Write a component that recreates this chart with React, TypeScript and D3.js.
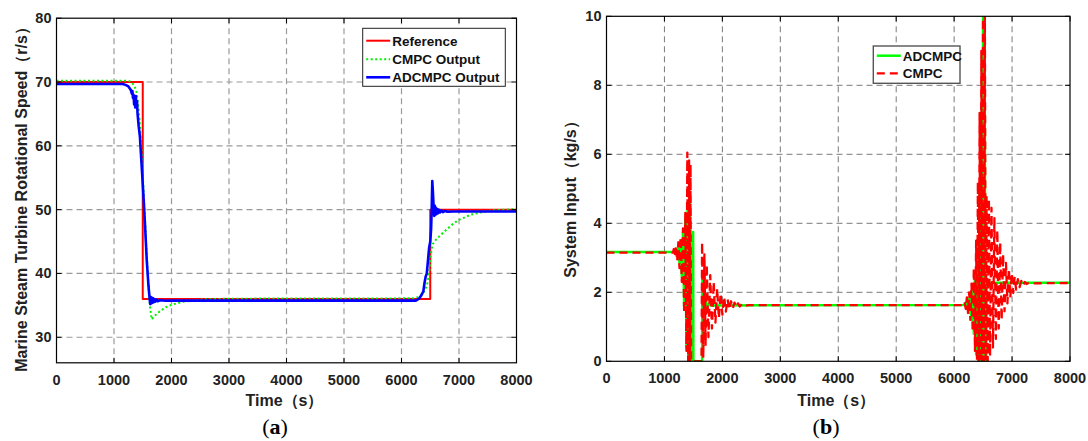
import React from "react";
import * as d3 from "d3";

// ---------- Data: panel (a) ----------
const timeTicks = [0, 1000, 2000, 3000, 4000, 5000, 6000, 7000, 8000];
const speedTicks = [30, 40, 50, 60, 70, 80];
const inputTicks = [0, 2, 4, 6, 8, 10];

const referenceSpeed: [number, number][] = [
  [0, 70], [1500, 70], [1500, 36], [6500, 36], [6500, 50], [8000, 50],
];

const cmpcOutput: [number, number][] = [
  [0, 70.2], [1250, 70.2], [1300, 70.0], [1350, 69.5], [1390, 68.5], [1420, 66.5],
  [1450, 63.5], [1480, 59], [1520, 52], [1560, 44.5], [1600, 38], [1630, 34.5],
  [1655, 32.8], [1700, 33.3], [1800, 34.1], [1900, 34.7], [2000, 35.1], [2200, 35.55],
  [2400, 35.8], [2600, 35.95], [3000, 36.05], [6200, 36.1], [6300, 36.3], [6380, 37.0],
  [6440, 38.0], [6480, 40], [6510, 43], [6540, 44.6], [6560, 44.8], [6600, 45.3],
  [6700, 46.2], [6800, 47.0], [6900, 47.8], [7000, 48.4], [7200, 49.2], [7400, 49.6],
  [7600, 49.9], [8000, 50.1],
];

const adcmpcOutput: [number, number][] = [
  [0, 69.7], [1150, 69.7], [1200, 69.55], [1250, 69.3], [1290, 68.8], [1310, 68.2],
  [1320, 68.6], [1330, 67.5], [1340, 68.0], [1350, 66.5], [1360, 67.6], [1370, 66.0],
  [1380, 67.8], [1390, 66.2], [1400, 67.0], [1410, 65.0], [1430, 63.0], [1450, 61.5],
  [1480, 57], [1510, 52.5], [1540, 47.5], [1570, 42.0], [1600, 38.0], [1620, 36.0],
  [1630, 35.2], [1640, 36.3], [1650, 35.3], [1660, 36.2], [1670, 35.4], [1680, 36.1],
  [1690, 35.5], [1700, 36.0], [1720, 35.6], [1740, 35.9], [1760, 35.65], [1800, 35.8],
  [1900, 35.72], [2000, 35.75], [6250, 35.75], [6300, 36.0], [6340, 36.5], [6380, 37.2],
  [6400, 38.5], [6420, 39.5], [6440, 40.0], [6460, 42], [6480, 44.0], [6500, 45.0],
  [6515, 47], [6525, 50], [6535, 54.5], [6545, 53], [6560, 50.2], [6570, 49.0],
  [6580, 50.6], [6590, 49.2], [6600, 50.3], [6610, 49.3], [6620, 50.1], [6635, 49.45],
  [6650, 50.0], [6670, 49.55], [6690, 49.9], [6720, 49.6], [6760, 49.8], [6800, 49.68],
  [6900, 49.72], [8000, 49.7],
];

// ---------- Data: panel (b) ----------
const adcmpcInput: [number, number][] = [
  [0, 3.17], [1190, 3.17],
  [1200, 3.2], [1220, 3.05], [1240, 3.35], [1260, 2.85], [1280, 3.5], [1300, 2.45],
  [1320, 3.75], [1340, 1.6], [1360, 4.1], [1380, 0.4], [1400, 4.45], [1420, 0],
  [1440, 4.8], [1455, 0], [1490, 0], [1495, 3.75], [1500, 0], [1650, 0],
  [1655, 2.45], [1670, 1.45], [1685, 1.95], [1700, 1.5], [1715, 1.75], [1735, 1.58],
  [1760, 1.66], [1800, 1.62], [6180, 1.63],
  [6200, 1.7], [6220, 1.52], [6240, 1.8], [6260, 1.4], [6280, 1.95], [6300, 1.2],
  [6320, 2.2], [6340, 0.8], [6360, 2.6], [6380, 0.2], [6400, 3.5], [6420, 0],
  [6440, 5.0], [6455, 0], [6470, 7.2], [6485, 0], [6500, 10.5], [6515, 0],
  [6525, 10.5], [6540, 0], [6555, 0], [6560, 2.28], [6580, 2.25], [6600, 2.3],
  [6630, 2.26], [6700, 2.28], [8000, 2.28],
];

const cmpcInput: [number, number][] = [
  [0, 3.15], [1150, 3.15],
  [1160, 3.25], [1180, 3.05], [1200, 3.35], [1220, 2.9], [1240, 3.45], [1260, 2.7],
  [1280, 3.6], [1300, 2.3], [1320, 3.85], [1340, 1.4], [1360, 4.3], [1380, 0.3],
  [1395, 6.05], [1410, 0], [1425, 5.85], [1440, 0], [1450, 5.7], [1460, 0],
  [1640, 0], [1650, 3.45], [1670, 0.1], [1690, 3.1], [1710, 0.45], [1730, 2.8],
  [1760, 0.7], [1790, 2.5], [1820, 0.95], [1850, 2.3], [1880, 1.12], [1910, 2.1],
  [1940, 1.25], [1970, 1.97], [2000, 1.35], [2030, 1.87], [2060, 1.44], [2090, 1.8],
  [2120, 1.5], [2150, 1.74], [2180, 1.54], [2210, 1.7], [2240, 1.57], [2270, 1.68],
  [2300, 1.59], [2340, 1.66], [2380, 1.6], [2450, 1.63], [6150, 1.63],
  [6180, 1.72], [6200, 1.52], [6220, 1.85], [6240, 1.4], [6260, 2.0], [6280, 1.2],
  [6300, 2.25], [6320, 0.85], [6340, 2.7], [6360, 0.3], [6380, 3.5], [6395, 0],
  [6410, 5.2], [6425, 0], [6440, 7.2], [6455, 0], [6470, 9.0], [6485, 0],
  [6500, 10.5], [6515, 0], [6530, 10.5], [6545, 0], [6560, 4.8], [6580, 0],
  [6600, 4.7], [6620, 0.15], [6645, 4.45], [6670, 0.4], [6695, 4.15], [6720, 0.65],
  [6745, 3.8], [6770, 0.95], [6795, 3.45], [6820, 1.2], [6845, 3.1], [6870, 1.45],
  [6895, 2.85], [6920, 1.68], [6945, 2.68], [6970, 1.85], [6995, 2.55], [7020, 1.98],
  [7045, 2.45], [7070, 2.08], [7100, 2.38], [7130, 2.15], [7160, 2.33], [7190, 2.2],
  [7220, 2.3], [7250, 2.24], [7290, 2.28], [7350, 2.26], [8000, 2.27],
];

const FONT = "'Liberation Sans', Arial, Helvetica, sans-serif";

type Series = {
  data: [number, number][];
  color: string;
  width: number;
  dash?: string;
  label: string;
};

type PanelProps = {
  id: string;
  x0: number; x1: number; y0: number; y1: number;
  xDomain: [number, number]; yDomain: [number, number];
  xTicks: number[]; yTicks: number[];
  series: Series[];
  gridColor: string; gridWidth: number;
  legend: { x: number; y: number; w: number; h: number; rowY: number[]; stroke: string; strokeWidth: number };
  yTitle: string; yTitleX: number;
  caption: string; captionX: number;
};

function Panel(p: PanelProps) {
  const x = d3.scaleLinear().domain(p.xDomain).range([p.x0, p.x1]);
  const y = d3.scaleLinear().domain(p.yDomain).range([p.y1, p.y0]);
  const line = d3.line<[number, number]>().x(d => x(d[0])).y(d => y(d[1]));
  const tickLen = 5;
  const clipId = `clip-${p.id}`;
  const midX = (p.x0 + p.x1) / 2;
  return (
    <g>
      <defs>
        <clipPath id={clipId}>
          <rect x={p.x0} y={p.y0} width={p.x1 - p.x0} height={p.y1 - p.y0} />
        </clipPath>
      </defs>
      <rect x={p.x0} y={p.y0} width={p.x1 - p.x0} height={p.y1 - p.y0} fill="#fff" />
      {p.xTicks.filter(t => t > p.xDomain[0] && t < p.xDomain[1]).map(t => (
        <line key={"gx" + t} x1={x(t)} x2={x(t)} y1={p.y0} y2={p.y1}
          stroke={p.gridColor} strokeWidth={p.gridWidth} strokeDasharray="6,4" />
      ))}
      {p.yTicks.filter(t => t > p.yDomain[0] && t < p.yDomain[1]).map(t => (
        <line key={"gy" + t} x1={p.x0} x2={p.x1} y1={y(t)} y2={y(t)}
          stroke={p.gridColor} strokeWidth={p.gridWidth} strokeDasharray="6,4" />
      ))}
      <g clipPath={`url(#${clipId})`}>
        {p.series.map((s, i) => (
          <path key={i} d={line(s.data) || ""} fill="none" stroke={s.color}
            strokeWidth={s.width} strokeDasharray={s.dash} strokeLinejoin="round" />
        ))}
      </g>
      <rect x={p.x0} y={p.y0} width={p.x1 - p.x0} height={p.y1 - p.y0}
        fill="none" stroke="#000" strokeWidth={1.2} />
      {p.xTicks.map(t => (
        <g key={"tx" + t}>
          <line x1={x(t)} x2={x(t)} y1={p.y1} y2={p.y1 - tickLen} stroke="#000" strokeWidth={1} />
          <line x1={x(t)} x2={x(t)} y1={p.y0} y2={p.y0 + tickLen} stroke="#000" strokeWidth={1} />
          <text x={x(t)} y={p.y1 + 22} textAnchor="middle" fontFamily={FONT}
            fontWeight="bold" fontSize={14.5} fill="#222">{t}</text>
        </g>
      ))}
      {p.yTicks.map(t => (
        <g key={"ty" + t}>
          <line x1={p.x0} x2={p.x0 + tickLen} y1={y(t)} y2={y(t)} stroke="#000" strokeWidth={1} />
          <line x1={p.x1} x2={p.x1 - tickLen} y1={y(t)} y2={y(t)} stroke="#000" strokeWidth={1} />
          <text x={p.x0 - 5} y={y(t) + 5} textAnchor="end" fontFamily={FONT}
            fontWeight="bold" fontSize={14.5} fill="#222">{t}</text>
        </g>
      ))}
      <text x={midX - 2} y={405.5} textAnchor="middle" fontFamily={FONT} fontWeight="bold"
        fontSize={16} fill="#222">Time（s）</text>
      <text transform={`translate(${p.yTitleX},195.5) rotate(-90)`} textAnchor="middle"
        fontFamily={FONT} fontWeight="bold" fontSize={16} fill="#222">{p.yTitle}</text>
      <text x={p.captionX} y={434} textAnchor="middle"
        fontFamily="'Liberation Serif', 'Times New Roman', serif" fontSize={22} fill="#000">
        (<tspan fontWeight="bold">{p.caption}</tspan>)
      </text>
      <rect x={p.legend.x} y={p.legend.y} width={p.legend.w} height={p.legend.h}
        fill="#fff" stroke={p.legend.stroke} strokeWidth={p.legend.strokeWidth} />
      {p.series.map((s, i) => (
        <g key={"lg" + i}>
          <line x1={p.legend.x + 3.5} x2={p.legend.x + 27.5} y1={p.legend.rowY[i]} y2={p.legend.rowY[i]}
            stroke={s.color} strokeWidth={s.width} strokeDasharray={s.dash} />
          <text x={p.legend.x + 29.5} y={p.legend.rowY[i] + 4.8} fontFamily={FONT}
            fontWeight="bold" fontSize={13.5} fill="#111">{s.label}</text>
        </g>
      ))}
    </g>
  );
}

export default function App() {
  return (
    <svg width={1088} height={441} viewBox="0 0 1088 441"
      style={{ position: "absolute", left: 0, top: 0, background: "#fff" }}>
      <rect x={0} y={0} width={1088} height={441} fill="#fff" />
      <Panel
        id="a"
        x0={56.5} x1={516.5} y0={18.2} y1={362.8}
        xDomain={[0, 8000]} yDomain={[26, 80]}
        xTicks={timeTicks} yTicks={speedTicks}
        gridColor="#9a9a9a" gridWidth={1.2}
        series={[
          { data: referenceSpeed, color: "#ff0000", width: 2, label: "Reference" },
          { data: cmpcOutput, color: "#00ee00", width: 2, dash: "2,2.5", label: "CMPC Output" },
          { data: adcmpcOutput, color: "#0000ff", width: 2.6, label: "ADCMPC Output" },
        ]}
        legend={{ x: 362.7, y: 28.3, w: 142.6, h: 58, rowY: [40.7, 59.3, 77.3], stroke: "#222", strokeWidth: 1 }}
        yTitle="Marine Steam Turbine Rotational Speed（r/s）" yTitleX={26.5}
        caption="a" captionX={275}
      />
      <Panel
        id="b"
        x0={606.5} x1={1070} y0={16.3} y1={361.3}
        xDomain={[0, 8000]} yDomain={[0, 10]}
        xTicks={timeTicks} yTicks={inputTicks}
        gridColor="#7a7a7a" gridWidth={1}
        series={[
          { data: adcmpcInput, color: "#00ff00", width: 2.5, label: "ADCMPC" },
          { data: cmpcInput, color: "#ff0000", width: 2.3, dash: "8,5", label: "CMPC" },
        ]}
        legend={{ x: 873.3, y: 46, w: 86.7, h: 37.3, rowY: [55.7, 73.3], stroke: "#555", strokeWidth: 1.4 }}
        yTitle="System Input（kg/s）" yTitleX={576}
        caption="b" captionX={826}
      />
    </svg>
  );
}
